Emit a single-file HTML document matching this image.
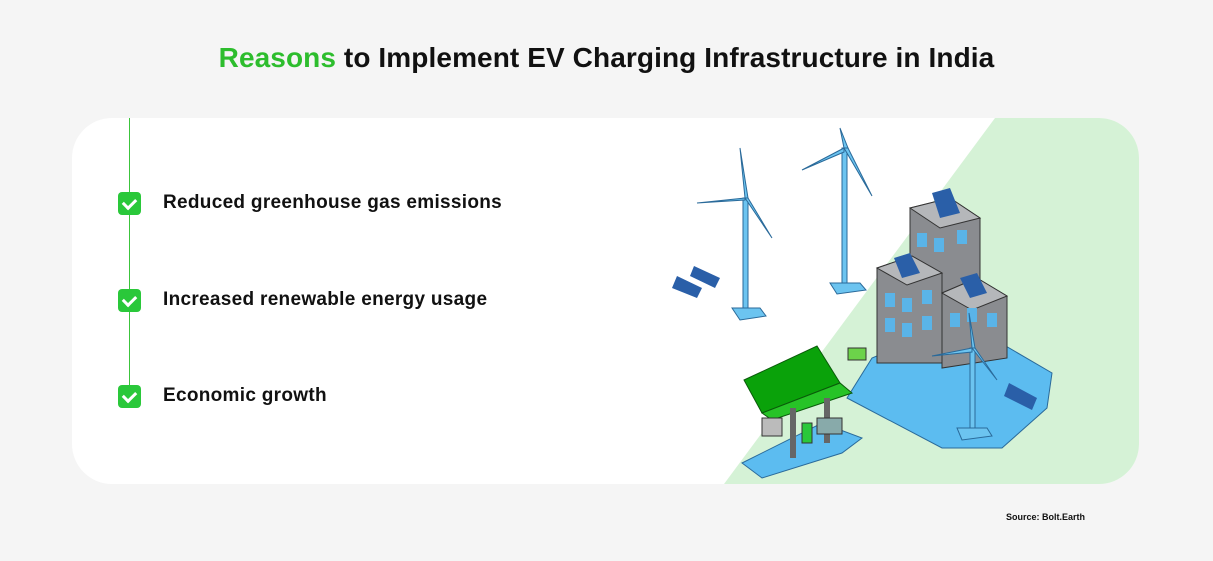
<!DOCTYPE html>
<html><head><meta charset="utf-8"><style>
html,body{margin:0;padding:0}
body{width:1213px;height:561px;background:#f5f5f5;position:relative;overflow:hidden;font-family:"Liberation Sans",sans-serif}
.title{position:absolute;top:42px;left:0;width:1213px;text-align:center;font-size:28px;font-weight:bold;color:#111;letter-spacing:0.1px}
.title span{color:#2dbd2d}
.card{position:absolute;left:72px;top:118px;width:1067px;height:366px;background:#fff;border-radius:40px;overflow:hidden}
.line{position:absolute;left:129px;top:118px;width:1px;height:278px;background:#3cc43c}
.cb{position:absolute;left:118px;width:23px;height:23px;background:#2ac83a;border-radius:4px}
.cb:after{content:"";position:absolute;left:7px;top:4px;width:6px;height:10px;border:solid #fff;border-width:0 3px 3px 0;transform:rotate(45deg)}
.t{position:absolute;left:163px;font-size:19px;font-weight:bold;color:#111;letter-spacing:0.3px}
.src{position:absolute;left:1006px;top:512px;font-size:9px;font-weight:bold;color:#111}
</style></head><body>
<div class="title"><span>Reasons</span> to Implement EV Charging Infrastructure in India</div>
<div class="card">
<svg width="1067" height="366" style="position:absolute;left:0;top:0">
<polygon points="923,0 1067,0 1067,366 652,366" fill="#d5f2d6"/>
<polygon points="775,280 800,240 860,215 920,220 980,255 975,290 930,330 870,330" fill="#5cbcf0" stroke="#2a6a9a"/>
<polygon points="838,90 878,80 908,100 908,230 838,230" fill="#8a8c90" stroke="#333"/>
<polygon points="838,90 878,80 908,100 868,110" fill="#b5b7ba" stroke="#333"/>
<polygon points="805,150 840,138 870,155 870,245 805,245" fill="#8a8c90" stroke="#333"/>
<polygon points="805,150 840,138 870,155 835,167" fill="#b5b7ba" stroke="#333"/>
<polygon points="870,175 905,160 935,178 935,240 870,250" fill="#8a8c90" stroke="#333"/>
<polygon points="870,175 905,160 935,178 900,192" fill="#b5b7ba" stroke="#333"/>
<g fill="#5ab4e8">
<rect x="813" y="175" width="10" height="14"/><rect x="830" y="180" width="10" height="14"/><rect x="850" y="172" width="10" height="14"/>
<rect x="813" y="200" width="10" height="14"/><rect x="830" y="205" width="10" height="14"/><rect x="850" y="198" width="10" height="14"/>
<rect x="845" y="115" width="10" height="14"/><rect x="862" y="120" width="10" height="14"/><rect x="885" y="112" width="10" height="14"/>
<rect x="878" y="195" width="10" height="14"/><rect x="895" y="190" width="10" height="14"/><rect x="915" y="195" width="10" height="14"/>
</g>
<g fill="#2a5fa8"><polygon points="860,75 878,70 888,95 868,100"/><polygon points="822,140 838,135 848,155 830,160"/><polygon points="888,160 905,155 915,175 898,180"/><polygon points="605,158 630,170 625,180 600,170"/><polygon points="622,148 648,160 643,170 618,158"/><polygon points="937,265 965,280 960,292 932,278"/></g>
<g stroke="#2a6a9a" fill="#6cc4f0">
<rect x="671" y="80" width="5" height="112"/><polygon points="660,190 688,190 694,198 668,202"/>
<polygon points="673,80 668,30 676,80"/><polygon points="673,80 700,120 676,80"/><polygon points="673,80 625,85 673,82"/>
<rect x="770" y="30" width="5" height="135"/><polygon points="758,165 788,165 794,172 765,176"/>
<polygon points="772,30 768,10 776,30"/><polygon points="772,30 800,78 776,30"/><polygon points="772,30 730,52 772,34"/>
<rect x="898" y="230" width="5" height="82"/><polygon points="885,310 915,310 920,318 890,322"/>
<polygon points="900,230 897,195 903,230"/><polygon points="900,230 925,262 903,230"/><polygon points="900,230 860,238 900,234"/>
</g>
<polygon points="670,345 750,305 790,320 770,335 690,360" fill="#5cbcf0" stroke="#2a6a9a"/>
<polygon points="672,262 745,228 768,265 690,295" fill="#0aa20a" stroke="#0a5a0a"/>
<polygon points="690,295 768,265 780,275 700,302" fill="#27c327" stroke="#0a5a0a"/>
<rect x="718" y="290" width="6" height="50" fill="#666"/><rect x="752" y="280" width="6" height="45" fill="#666"/>
<rect x="690" y="300" width="20" height="18" fill="#bbb" stroke="#333"/><rect x="745" y="300" width="25" height="16" fill="#8aa" stroke="#333"/>
<rect x="730" y="305" width="10" height="20" fill="#2ac83a" stroke="#333"/>
<rect x="776" y="230" width="18" height="12" fill="#6cd34a" stroke="#333"/>
</svg>
</div>
<div class="line"></div>
<div class="cb" style="top:192px"></div><div class="t" style="top:192px">Reduced greenhouse gas emissions</div>
<div class="cb" style="top:289px"></div><div class="t" style="top:289px">Increased renewable energy usage</div>
<div class="cb" style="top:385px"></div><div class="t" style="top:385px">Economic growth</div>
<div class="src">Source: Bolt.Earth</div>
</body></html>
